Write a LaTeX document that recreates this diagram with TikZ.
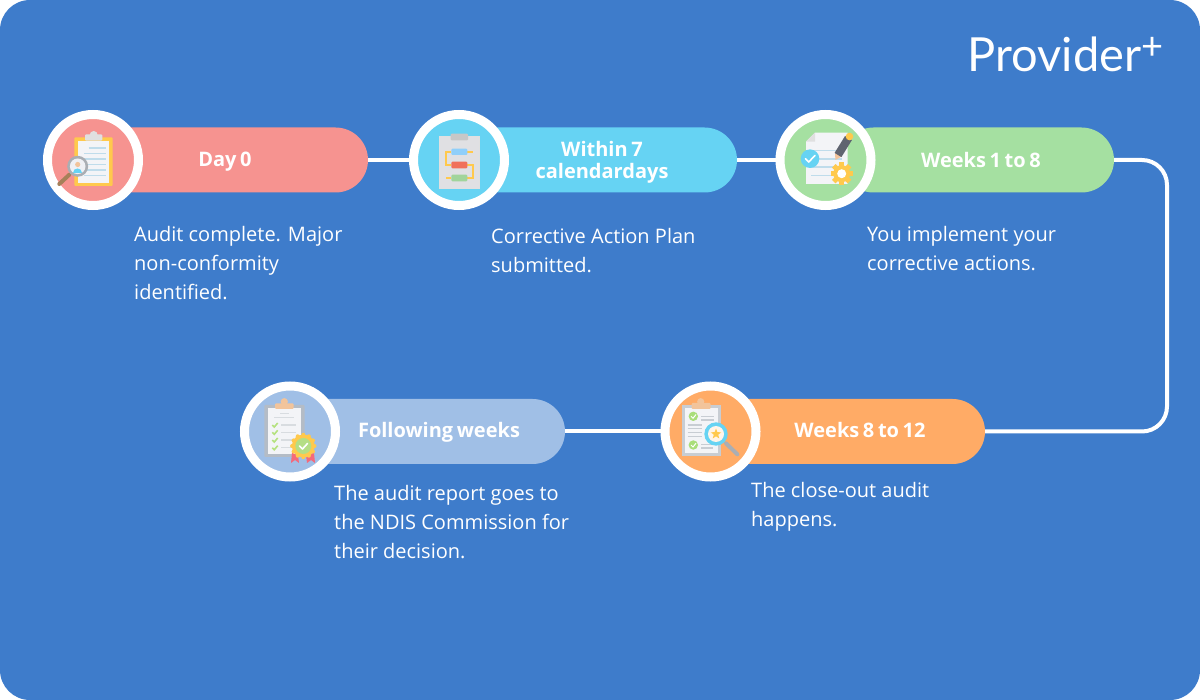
\documentclass[tikz,border=0pt]{standalone}
\usepackage{fontspec}
\usetikzlibrary{calc}
\setmainfont{Open Sans}
\newfontfamily\headfont[WordSpace=0.7]{Open Sans}
\newfontfamily\logofont{Lato}
\definecolor{bgblue}{HTML}{3E7CCB}
\definecolor{cred}{HTML}{F69390}
\definecolor{ccyan}{HTML}{66D3F3}
\definecolor{cgreen}{HTML}{A5E0A1}
\definecolor{corange}{HTML}{FFAB66}
\definecolor{cblue}{HTML}{A0BFE6}
\definecolor{paper}{HTML}{F3F4F7}
\definecolor{lineblue}{HTML}{BFDCEB}
\definecolor{gold}{HTML}{FFC94D}
\definecolor{bgray}{HTML}{B4BCC6}
\definecolor{lgray}{HTML}{C8CDD3}
\definecolor{peach}{HTML}{F2C49B}
\definecolor{tick}{HTML}{B5E27F}
\definecolor{boxblue}{HTML}{90CFFA}
\definecolor{boxred}{HTML}{F0705A}
\definecolor{boxgreen}{HTML}{A1D49B}
\definecolor{pencil}{HTML}{5F6470}
\definecolor{okgreen}{HTML}{A9DE7A}
\definecolor{lens}{HTML}{FFF5EA}
\definecolor{ribbon}{HTML}{F4697B}
\definecolor{seal}{HTML}{B5DE85}
\tikzset{
  x=1pt,y=-1pt,
  pill/.style={rectangle,rounded corners=32.5pt,minimum height=65pt,inner sep=0pt},
  disc/.style={circle,draw=white,line width=9pt,minimum size=91pt,inner sep=0pt},
  head/.style={text=white,font=\fontsize{20}{24}\selectfont\headfont\bfseries,align=center,inner sep=0pt,anchor=center},
  body/.style={text=white,font=\fontsize{20}{29}\selectfont,align=left,inner sep=0pt,anchor=north west},
  conn/.style={draw=white,line width=4pt},
}
\begin{document}
\begin{tikzpicture}
\useasboundingbox (0,0) rectangle (1200,700);
\fill[white] (0,0) rectangle (1200,700);
\fill[bgblue,rounded corners=30pt] (0,0) rectangle (1200,700);

% pills
\node[pill,fill=cred,minimum width=273pt] (p1) at (231.5,160) {};
\node[pill,fill=ccyan,minimum width=273pt] (p2) at (600.5,160) {};
\node[pill,fill=cgreen,minimum width=273pt] (p3) at (977.5,160) {};
\node[pill,fill=corange,minimum width=273pt] (p4) at (848.5,431.5) {};
\node[pill,fill=cblue,minimum width=273pt] (p5) at (428.5,431.5) {};

% discs
\node[disc,fill=cred] (c1) at (93,160) {};
\node[disc,fill=ccyan] (c2) at (459,160) {};
\node[disc,fill=cgreen] (c3) at (825.5,160) {};
\node[disc,fill=corange] (c4) at (710.5,431.5) {};
\node[disc,fill=cblue] (c5) at (290,431.5) {};

% connectors
\coordinate (bend) at (1167,295);
\draw[conn] (p1.east) -- (c2.west);
\draw[conn] (p2.east) -- (c3.west);
\draw[conn,rounded corners=25pt] (p3.east) -| (bend) |- (p4.east);
\draw[conn] (c4.west) -- (p5.east);

% icon 1
\fill[gold,rounded corners=1pt] (74.3,137.3) rectangle (112.7,186);
\fill[paper] (78,140.7) rectangle (109.3,182.7);
\fill[black!12] (93.7,135) circle (4);
\fill[black!12,rounded corners=1pt] (85,134.5) rectangle (102.3,140.7);
\foreach \y/\a in {148/88.5,153.5/84,159/84,164.5/84,170/84,175.5/84}
  \draw[lineblue,line width=1.5pt] (\a,\y) -- (106,\y);
\draw[brown!60!gray,line width=4pt,line cap=round] (69.3,174.7) -- (59.3,184);
\fill[lgray!85!black] (77.7,166.3) circle (10.5);
\fill[paper!90!lgray] (77.7,166.3) circle (7.8);
\fill[peach] (77.7,164.5) circle (2.6);
\fill[ccyan] (73,172.8) .. controls (73,167.5) and (82.4,167.5) .. (82.4,172.8) -- cycle;

% icon 2
\fill[paper!92!black,draw=black!12,line width=1pt] (439.7,136.7) rectangle (479,189);
\fill[black!22,rounded corners=1pt] (450.7,133.7) rectangle (468,140.3);
\draw[gold,line width=2pt] (451.3,151.8) -- (445.7,151.8) -- (445.7,165) -- (451.3,165);
\draw[gold,line width=2pt] (467.3,151.8) -- (472.7,151.8);
\draw[gold,line width=2pt] (467.3,165) -- (472.7,165) -- (472.7,178) -- (467.3,178);
\draw[gold,line width=2pt] (451.3,178) -- (445.7,178);
\fill[boxblue,rounded corners=1pt] (451.3,148.7) rectangle (467.3,155);
\fill[boxred,rounded corners=1pt] (451.3,161.7) rectangle (467.3,168.3);
\fill[boxgreen,rounded corners=1pt] (451.3,174.7) rectangle (467.3,181.3);

% icon 3
\fill[paper] (815,132.7) -- (847.7,132.7) -- (847.7,184) -- (806,184) -- (806,141.7) -- cycle;
\fill[black!12] (815,132.7) -- (815,141.7) -- (806,141.7) -- cycle;
\foreach \y in {150.7,159,167,175.3}
  \draw[lineblue,line width=1.5pt] (811,\y) -- (842,\y);
\fill[ccyan] (810,158.7) circle (9.3);
\draw[white,line width=1.6pt,line cap=round,line join=round] (805.5,158.7) -- (808.7,162) -- (815,155.5);
\fill[peach] (835.4,160) -- (835,153) -- (841.5,156.5) -- cycle;
\draw[pencil,line width=8pt] (838,155) -- (848.5,138);
\fill[gold] (849.5,136.5) circle (3.8);
\foreach \a in {0,45,...,315}
  \fill[gold,rotate around={\a:(841.7,173.7)}] (839.2,162.5) rectangle (844.2,170);
\fill[gold] (841.7,173.7) circle (8.5);
\fill[white] (841.7,173.7) circle (4.5);

% icon 4
\fill[lgray] (681.7,405) rectangle (721.3,456);
\fill[paper] (685,408.3) rectangle (718,452.7);
\fill[peach] (700.7,401.7) circle (3.6);
\fill[peach,rounded corners=1pt] (691.7,403) rectangle (710.7,409);
\fill[okgreen] (693.3,416.3) circle (4.7);
\fill[okgreen] (693.3,445) circle (4.7);
\draw[white,line width=1pt] (691,416.3) -- (693,418.3) -- (696,414.5);
\draw[white,line width=1pt] (691,445) -- (693,447) -- (696,443.2);
\foreach \y in {416.7,420}
  \draw[lgray,line width=1.5pt] (701,\y) -- (714.3,\y);
\foreach \y in {425,428.7,432.7,436.7}
  \draw[lgray,line width=1.5pt] (687.7,\y) -- (702.3,\y);
\foreach \y in {444.7,448}
  \draw[lgray,line width=1.5pt] (701,\y) -- (713,\y);
\draw[lgray!85!black,line width=4pt,line cap=round] (726,443.3) -- (737.3,454.3);
\fill[ccyan] (716,434) circle (11.7);
\fill[lens] (716,434) circle (8);
\fill[gold] (716,428.5) -- (717.4,432.2) -- (721.3,432.3) -- (718.2,434.7) -- (719.3,438.5) -- (716,436.3) -- (712.7,438.5) -- (713.8,434.7) -- (710.7,432.3) -- (714.6,432.2) -- cycle;

% icon 5
\fill[bgray,rounded corners=1pt] (264.3,405) rectangle (304.7,457);
\fill[paper] (267.7,408.3) rectangle (301.3,453.7);
\fill[peach] (284.3,401.7) circle (3.6);
\fill[peach,rounded corners=1pt] (275,403.3) rectangle (293.7,409);
\draw[lgray!70,line width=1.5pt] (280,413.3) -- (288.7,413.3);
\draw[lgray!70,line width=1.5pt] (274.3,417.5) -- (294.3,417.5);
\foreach \y in {425,432.3,440,447.7}{
  \draw[tick,line width=1.6pt] (272.3,\y) -- (274.3,\y+2) -- (277.7,\y-2);
  \draw[lgray!70,line width=1.5pt] (281,\y) -- (295.7,\y);
}
\fill[ribbon] (292,453) -- (298,455) -- (299,463) -- (295,460) -- (291,463) -- cycle;
\fill[ribbon] (306,455) -- (314,453) -- (315,463) -- (311,460) -- (307,463) -- cycle;
\foreach \a in {0,30,...,330}
  \fill[gold] ($(303.3,446)+(\a:11.2)$) circle (2);
\fill[gold] (303.3,446) circle (11.5);
\fill[seal] (303.3,446) circle (8);
\draw[white,line width=1.6pt,line cap=round,line join=round] (299.5,446) -- (302.5,449) -- (307.5,443.5);

% headings
\node[head] (h1) at (225,161.5) {Day 0};
\node[head] (h2) at (602,162.5) {Within 7\\[-2pt]calendardays};
\node[head] (h3) at (981,160) {Weeks 1 to 8};
\node[head] (h4) at (860,430) {Weeks 8 to 12};
\node[head] (h5) at (439,432) {Following weeks};

% body
\node[body] (b1) at (134,226) {Audit complete. Major\\non-conformity\\identified.};
\node[body] (b2) at (491,228) {Corrective Action Plan\\submitted.};
\node[body] (b3) at (867,226) {You implement your\\corrective actions.};
\node[body] (b4) at (751,482) {The close-out audit\\happens.};
\node[body] (b5) at (334,485) {The audit report goes to\\the NDIS Commission for\\their decision.};

% logo
\node[text=white,font=\fontsize{47}{50}\logofont,inner sep=0pt,anchor=base west] (logo) at (967.5,72) {Provider\raisebox{12pt}{\fontsize{38}{38}\selectfont+}};
\end{tikzpicture}
\end{document}
